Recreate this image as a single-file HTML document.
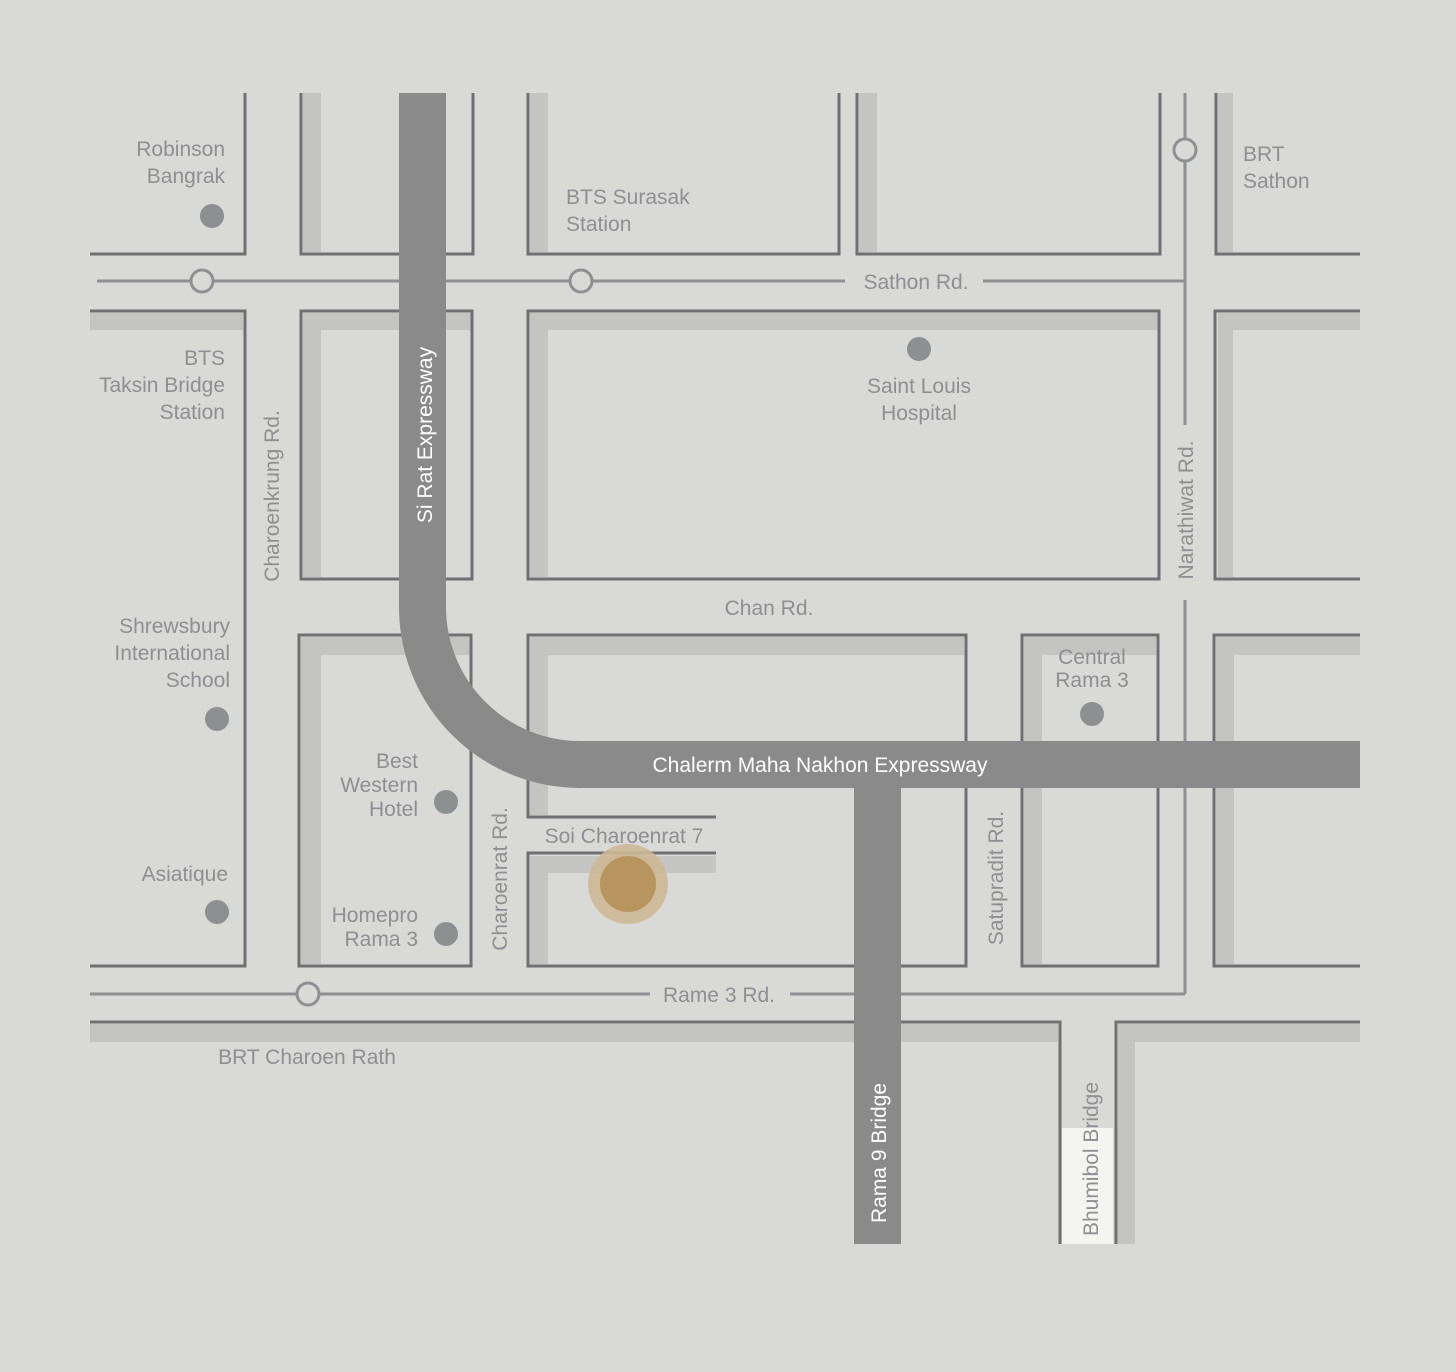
<!DOCTYPE html>
<html><head><meta charset="utf-8"><style>
html,body{margin:0;padding:0;background:#d9d9d8;}
svg{display:block}
text{font-family:"Liberation Sans",sans-serif;font-size:21px;fill:#8e8f91;}
.w{fill:#ffffff}
</style></head><body>
<svg width="1456" height="1372" viewBox="0 0 1456 1372" xmlns="http://www.w3.org/2000/svg">
<rect width="1456" height="1372" fill="#d9d9d8"/>
<g fill="#c4c4c3">
<!-- row1 bands -->
<rect x="303" y="93" width="18" height="159"/>
<rect x="530" y="93" width="18" height="159"/>
<rect x="859" y="93" width="18" height="159"/>
<rect x="1218" y="93" width="15" height="159"/>
<!-- row2 -->
<rect x="90" y="313" width="153" height="17"/>
<rect x="303" y="313" width="168" height="17"/><rect x="303" y="313" width="18" height="264"/>
<rect x="530" y="313" width="628" height="17"/><rect x="530" y="313" width="18" height="264"/>
<rect x="1218" y="313" width="142" height="17"/><rect x="1218" y="313" width="15" height="264"/>
<!-- row3 -->
<rect x="301" y="637" width="169" height="18"/><rect x="301" y="637" width="20" height="327"/>
<rect x="530" y="637" width="434" height="18"/><rect x="530" y="637" width="18" height="178"/>
<rect x="530" y="856" width="186" height="17"/><rect x="530" y="856" width="18" height="108"/>
<rect x="1024" y="637" width="132" height="18"/><rect x="1024" y="637" width="18" height="327"/>
<rect x="1216" y="637" width="144" height="18"/><rect x="1216" y="637" width="18" height="327"/>
<!-- row4 -->
<rect x="90" y="1024" width="968" height="18"/>
<rect x="1118" y="1024" width="242" height="18"/><rect x="1118" y="1024" width="17" height="220"/>
</g>
<rect x="1062" y="1128" width="51" height="116" fill="#f4f4f3"/>
<g fill="none" stroke="#6f7071" stroke-width="3">
<path d="M90 254H245V93"/>
<path d="M301 93V254H473V93"/>
<path d="M528 93V254H839V93"/>
<path d="M857 93V254H1160V93"/>
<path d="M1216 93V254H1360"/>
<path d="M90 311H245V966H90"/>
<path d="M301 311H472V579H301Z"/>
<path d="M528 311H1159V579H528Z"/>
<path d="M1360 311H1215V579H1360"/>
<path d="M299 635H471V966H299Z"/>
<path d="M716 817H528V635H966V966H528V853H716"/>
<path d="M1022 635H1158V966H1022Z"/>
<path d="M1360 635H1214V966H1360"/>
<path d="M90 1022H1060V1244"/>
<path d="M1116 1244V1022H1360"/>
</g>
<g fill="none" stroke="#8f9091" stroke-width="3">
<path d="M97 281H845M983 281H1185"/>
<path d="M1185 93V425M1185 600V994"/>
<path d="M90 994H650M790 994H1185"/>
</g>
<g fill="#d9d9d8" stroke="#8f9091" stroke-width="3">
<circle cx="202" cy="281" r="11"/>
<circle cx="581" cy="281" r="11"/>
<circle cx="1185" cy="150" r="11"/>
<circle cx="308" cy="994" r="11"/>
</g>
<!-- expressways -->
<path d="M422.5 93V607A157.5 157.5 0 0 0 580 764.5H1360" fill="none" stroke="#8a8a8a" stroke-width="47"/>
<rect x="854" y="764" width="47" height="480" fill="#8a8a8a"/>
<!-- dots -->
<g fill="#8e8f91">
<circle cx="212" cy="216" r="12"/>
<circle cx="919" cy="349" r="12"/>
<circle cx="217" cy="719" r="12"/>
<circle cx="446" cy="802" r="12"/>
<circle cx="217" cy="912" r="12"/>
<circle cx="446" cy="934" r="12"/>
<circle cx="1092" cy="714" r="12"/>
</g>
<circle cx="628" cy="884" r="40" fill="#cdb896" opacity="0.9"/>
<circle cx="628" cy="884" r="28" fill="#b8945f"/>
<!-- labels -->
<g text-anchor="end">
<text x="225" y="156">Robinson</text><text x="225" y="183">Bangrak</text>
<text x="225" y="365">BTS</text><text x="225" y="392">Taksin Bridge</text><text x="225" y="419">Station</text>
<text x="230" y="633">Shrewsbury</text><text x="230" y="660">International</text><text x="230" y="687">School</text>
<text x="228" y="881">Asiatique</text>
<text x="418" y="768">Best</text><text x="418" y="792">Western</text><text x="418" y="816">Hotel</text>
<text x="418" y="922">Homepro</text><text x="418" y="946">Rama 3</text>
</g>
<text x="566" y="204">BTS Surasak</text><text x="566" y="231">Station</text>
<text x="1243" y="161">BRT</text><text x="1243" y="188">Sathon</text>
<text x="916" y="289" text-anchor="middle">Sathon Rd.</text>
<g text-anchor="middle">
<text x="919" y="393">Saint Louis</text><text x="919" y="420">Hospital</text>
<text x="769" y="615">Chan Rd.</text>
<text x="1092" y="664">Central</text><text x="1092" y="687">Rama 3</text>
<text x="624" y="843">Soi Charoenrat 7</text>
<text x="719" y="1002">Rame 3 Rd.</text>
<text x="307" y="1064">BRT Charoen Rath</text>
<text class="w" x="820" y="772">Chalerm Maha Nakhon Expressway</text>
</g>
<g text-anchor="middle">
<text transform="translate(279,496) rotate(-90)">Charoenkrung Rd.</text>
<text class="w" transform="translate(432,435) rotate(-90)">Si Rat Expressway</text>
<text transform="translate(1193,510) rotate(-90)">Narathiwat Rd.</text>
<text transform="translate(507,879) rotate(-90)">Charoenrat Rd.</text>
<text transform="translate(1003,878) rotate(-90)">Satupradit Rd.</text>
<text class="w" transform="translate(886,1153) rotate(-90)">Rama 9 Bridge</text>
<text transform="translate(1098,1159) rotate(-90)">Bhumibol Bridge</text>
</g>
</svg>
</body></html>
